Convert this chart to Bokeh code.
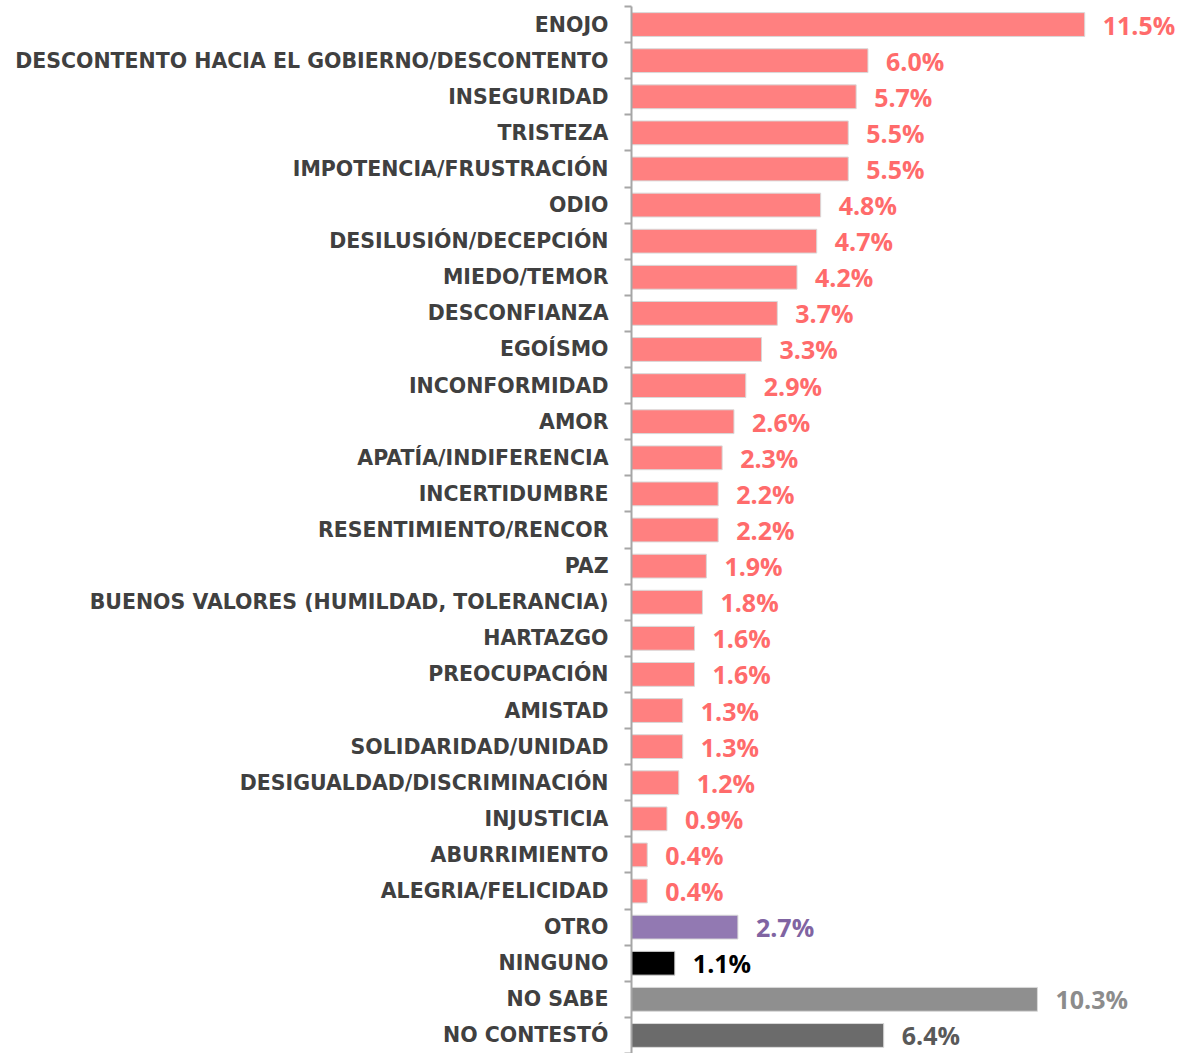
from bokeh.plotting import figure
from bokeh.models import ColumnDataSource, Range1d, FixedTicker, LinearAxis
from bokeh.core.properties import value
from bokeh.embed import file_html
from bokeh.resources import INLINE

categories = [
    "ENOJO", "DESCONTENTO HACIA EL GOBIERNO/DESCONTENTO", "INSEGURIDAD", "TRISTEZA",
    "IMPOTENCIA/FRUSTRACIÓN", "ODIO", "DESILUSIÓN/DECEPCIÓN", "MIEDO/TEMOR",
    "DESCONFIANZA", "EGOÍSMO", "INCONFORMIDAD", "AMOR", "APATÍA/INDIFERENCIA",
    "INCERTIDUMBRE", "RESENTIMIENTO/RENCOR", "PAZ", "BUENOS VALORES (HUMILDAD, TOLERANCIA)",
    "HARTAZGO", "PREOCUPACIÓN", "AMISTAD", "SOLIDARIDAD/UNIDAD",
    "DESIGUALDAD/DISCRIMINACIÓN", "INJUSTICIA", "ABURRIMIENTO", "ALEGRIA/FELICIDAD",
    "OTRO", "NINGUNO", "NO SABE", "NO CONTESTÓ",
]
values = [11.5, 6.0, 5.7, 5.5, 5.5, 4.8, 4.7, 4.2, 3.7, 3.3, 2.9, 2.6, 2.3, 2.2, 2.2,
          1.9, 1.8, 1.6, 1.6, 1.3, 1.3, 1.2, 0.9, 0.4, 0.4, 2.7, 1.1, 10.3, 6.4]
groups = ["emocion"] * 25 + ["otro", "ninguno", "nosabe", "nocontesto"]

bar_colors = {"emocion": "#FF8080", "otro": "#9279B2", "ninguno": "#000000",
              "nosabe": "#8F8F8F", "nocontesto": "#6B6B6B"}
label_colors = {"emocion": "#FF6B6B", "otro": "#8064A2", "ninguno": "#000000",
                "nosabe": "#8C8C8C", "nocontesto": "#595959"}

n = len(categories)
idx = list(range(n))
src = ColumnDataSource(dict(
    y=idx, v=values,
    txt=[f"{v:.1f}%" for v in values],
    bc=[bar_colors[g] for g in groups],
    lc=[label_colors[g] for g in groups],
))

p = figure(width=1180, height=1053, output_backend="svg", toolbar_location=None,
           x_range=Range1d(0, 13.93), y_range=Range1d(n - 0.5, -0.5),
           x_axis_location=None, y_axis_location=None,
           min_border_left=631, min_border_right=0, min_border_top=6, min_border_bottom=0)
p.outline_line_color = None
p.xgrid.visible = False
p.ygrid.visible = False
p.background_fill_color = "white"

p.hbar(y="y", left=0, right="v", height=0.66, source=src, fill_color="bc",
       line_color="#d9d9d9", line_width=1)
p.text(x="v", y="y", text="txt", source=src, x_offset=18, text_color="lc",
       text_font=value("Open Sans"), text_font_style="bold", text_font_size="25px",
       text_baseline="middle", text_align="left")

ax = LinearAxis(ticker=FixedTicker(ticks=idx, minor_ticks=[i - 0.5 for i in range(n + 1)]))
ax.major_label_overrides = {i: c for i, c in enumerate(categories)}
ax.major_tick_out = 0
ax.major_tick_in = 0
ax.minor_tick_out = 7
ax.minor_tick_in = 0
ax.minor_tick_line_color = "#A6A6A6"
ax.minor_tick_line_width = 2
ax.axis_line_color = "#A6A6A6"
ax.axis_line_width = 2
ax.major_label_standoff = 16
ax.major_label_text_font = "DejaVu Sans"
ax.major_label_text_font_style = "bold"
ax.major_label_text_font_size = "20.5px"
ax.major_label_text_color = "#404040"
p.add_layout(ax, "left")

open("out.html", "w").write(file_html(p, INLINE))
